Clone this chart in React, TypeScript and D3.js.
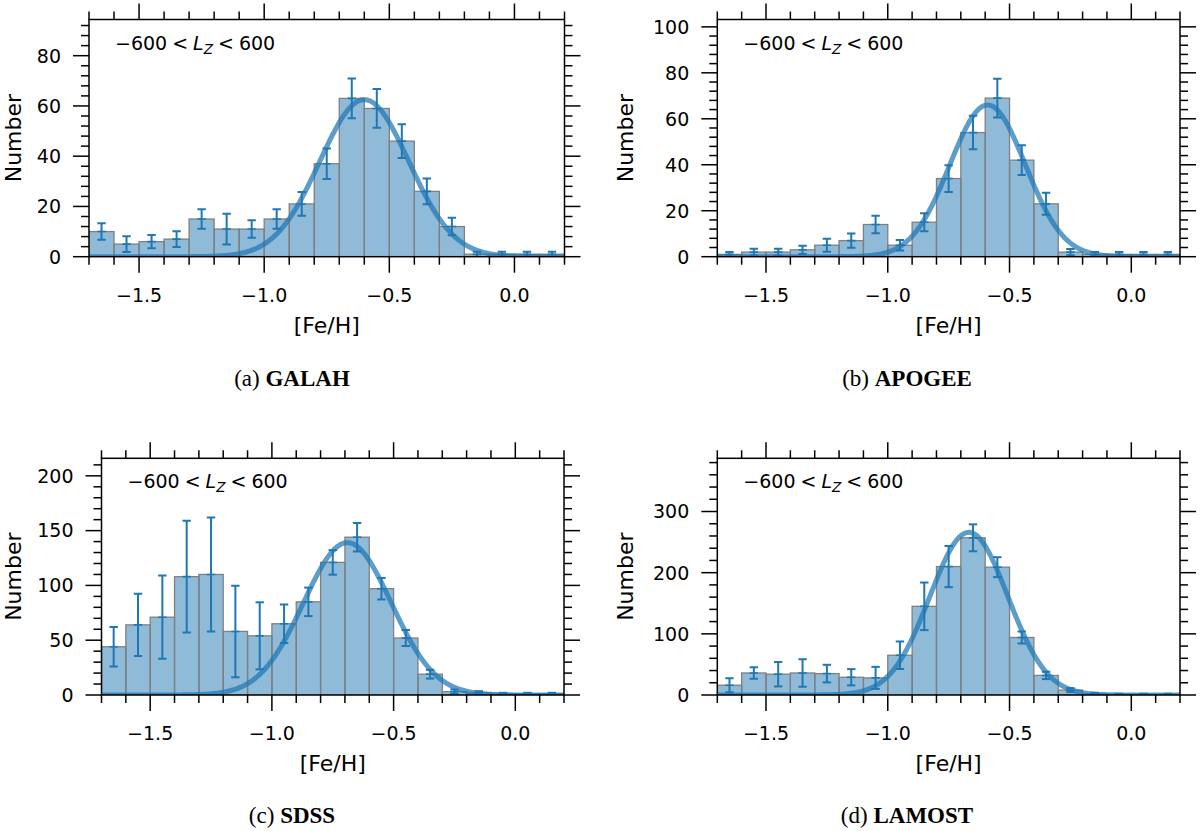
import React from 'react';
import * as d3 from 'd3';

// ---------- data ----------
const binCenters = [-1.65, -1.55, -1.45, -1.35, -1.25, -1.15, -1.05, -0.95, -0.85, -0.75, -0.65, -0.55, -0.45, -0.35, -0.25, -0.15, -0.05, 0.05, 0.15];
const binWidth = 0.1;
const xDomain = [-1.7, 0.2];
const xTicks = [-1.5, -1.0, -0.5, 0.0];
const xMinorStep = 0.1;

const galahCounts = [10, 5, 6, 7, 15, 11, 11, 15, 21, 37, 63, 59, 46, 26, 12, 1, 1, 1, 1];
const galahErrors = [3.3, 3.1, 2.6, 3.1, 3.9, 6.1, 3.5, 3.9, 4.7, 6.1, 7.9, 7.7, 6.7, 5.1, 3.5, 1, 1, 1, 1];
const galahFit = { amp: 62.5, mu: -0.6, sigma: 0.178 };
const galahYTicks = [0, 20, 40, 60, 80];

const apogeeCounts = [1, 2, 2, 3, 5, 7, 14, 5, 15, 34, 54, 69, 42, 23, 2, 1, 1, 1, 1];
const apogeeErrors = [1, 1.5, 1.5, 1.8, 2.8, 3.1, 3.8, 2.3, 3.9, 5.8, 7.3, 8.4, 6.5, 4.8, 1.4, 1, 1, 1, 1];
const apogeeFit = { amp: 66, mu: -0.59, sigma: 0.155 };
const apogeeYTicks = [0, 20, 40, 60, 80, 100];

const sdssCounts = [44, 64, 71, 108, 110, 58, 54, 65, 85, 121, 144, 97, 52, 19, 3, 2, 1, 1, 1];
const sdssErrors = [18, 28.5, 38, 51, 52, 41.7, 30.6, 17.6, 13, 11.2, 13, 9.8, 7.3, 4, 2, 1.5, 1, 1, 1];
const sdssFit = { amp: 139, mu: -0.69, sigma: 0.18 };
const sdssYTicks = [0, 50, 100, 150, 200];

const lamostCounts = [16, 36, 34, 36, 35, 29, 28, 65, 145, 210, 257, 209, 94, 32, 8, 2, 1, 1, 1];
const lamostErrors = [11.4, 9.5, 20, 22.5, 14.4, 13.3, 18, 22.5, 38.9, 33.7, 22, 16.3, 9.8, 6, 3.3, 1.5, 1, 1, 1];
const lamostFit = { amp: 266, mu: -0.667, sigma: 0.16 };
const lamostYTicks = [0, 100, 200, 300];

const captionLetters = ['(a)', '(b)', '(c)', '(d)'];
const surveyNames = ['GALAH', 'APOGEE', 'SDSS', 'LAMOST'];

// ---------- layout / style ----------
const W = 1200;
const H = 831;
const BLUE = '#1f77b4';
const SANS = '"DejaVu Sans", sans-serif';
const SERIF = '"Liberation Serif", "Times New Roman", serif';
const TICK_FS = 19;
const LABEL_FS = 22;
const MAJOR = 16;
const MINOR = 8;

type Fit = { amp: number; mu: number; sigma: number };
type PanelSpec = {
  counts: number[];
  errors: number[];
  fit: Fit;
  yTicks: number[];
  yMax: number;
  box: { left: number; right: number; top: number; bottom: number };
  ylabelX: number;
  captionX: number;
  captionY: number;
  caption: string;
  name: string;
};

const panels: PanelSpec[] = [
  { counts: galahCounts, errors: galahErrors, fit: galahFit, yTicks: galahYTicks, yMax: 94.4,
    box: { left: 89, right: 564.5, top: 19.5, bottom: 256.7 }, ylabelX: 21, captionX: 292, captionY: 386,
    caption: captionLetters[0], name: surveyNames[0] },
  { counts: apogeeCounts, errors: apogeeErrors, fit: apogeeFit, yTicks: apogeeYTicks, yMax: 103.2,
    box: { left: 717.3, right: 1180, top: 19.5, bottom: 256.7 }, ylabelX: 633, captionX: 907, captionY: 386,
    caption: captionLetters[1], name: surveyNames[1] },
  { counts: sdssCounts, errors: sdssErrors, fit: sdssFit, yTicks: sdssYTicks, yMax: 216,
    box: { left: 101.5, right: 564, top: 458.3, bottom: 695 }, ylabelX: 21, captionX: 292, captionY: 823,
    caption: captionLetters[2], name: surveyNames[2] },
  { counts: lamostCounts, errors: lamostErrors, fit: lamostFit, yTicks: lamostYTicks, yMax: 387,
    box: { left: 717.3, right: 1180, top: 458.3, bottom: 695 }, ylabelX: 633, captionX: 907, captionY: 823,
    caption: captionLetters[3], name: surveyNames[3] },
];

const fmtX = d3.format('.1f');

function Panel({ p, idx }: { p: PanelSpec; idx: number }) {
  const { left, right, top, bottom } = p.box;
  const x = d3.scaleLinear().domain(xDomain).range([left, right]);
  const y = d3.scaleLinear().domain([0, p.yMax]).range([bottom, top]);
  const yStep = p.yTicks[1] - p.yTicks[0];
  const yMinor = d3.range(0, p.yMax + 1e-9, yStep / 5).filter((v) => !p.yTicks.some((t) => Math.abs(t - v) < 1e-6));
  const xMinor = d3.range(Math.round(xDomain[0] / xMinorStep), Math.round(xDomain[1] / xMinorStep) + 1)
    .map((i) => i * xMinorStep)
    .filter((v) => !xTicks.some((t) => Math.abs(t - v) < 1e-6));

  const gauss = (v: number) => p.fit.amp * Math.exp(-((v - p.fit.mu) ** 2) / (2 * p.fit.sigma ** 2));
  const samples = d3.range(xDomain[0], xDomain[1] + 1e-9, 0.004);
  const line = d3.line<number>().x((v) => x(v)).y((v) => y(gauss(v)));

  const cap = 4.2;
  const clipId = `clip${idx}`;
  const tickW = 1.5;

  return (
    <g>
      <defs>
        <clipPath id={clipId}>
          <rect x={left} y={top} width={right - left} height={bottom - top} />
        </clipPath>
      </defs>
      <g clipPath={`url(#${clipId})`}>
        {binCenters.map((c, i) => (
          <rect key={i} x={x(c - binWidth / 2)} y={y(p.counts[i])} width={x(c + binWidth / 2) - x(c - binWidth / 2)}
            height={y(0) - y(p.counts[i])} fill={BLUE} fillOpacity={0.5} stroke="#808080" strokeWidth={1.3} />
        ))}
        <path d={line(samples) || ''} fill="none" stroke={BLUE} strokeOpacity={0.72} strokeWidth={5} />
        {binCenters.map((c, i) => {
          const cx = x(c);
          const y1 = y(p.counts[i] + p.errors[i]);
          const y0 = y(Math.max(p.counts[i] - p.errors[i], -1));
          const ym = y(p.counts[i]);
          return (
            <g key={i} stroke={BLUE} strokeWidth={2}>
              <line x1={cx} x2={cx} y1={y0} y2={y1} />
              <line x1={cx - cap} x2={cx + cap} y1={y1} y2={y1} />
              <line x1={cx - cap} x2={cx + cap} y1={y0} y2={y0} />
              <line x1={cx - cap} x2={cx + cap} y1={ym} y2={ym} strokeWidth={1.6} />
            </g>
          );
        })}
      </g>
      {/* ticks */}
      <g stroke="#000" strokeWidth={tickW}>
        {xTicks.map((t) => (
          <g key={`xt${t}`}>
            <line x1={x(t)} x2={x(t)} y1={bottom} y2={bottom + MAJOR} />
            <line x1={x(t)} x2={x(t)} y1={top} y2={top - MAJOR} />
          </g>
        ))}
        {xMinor.map((t) => (
          <g key={`xm${t}`}>
            <line x1={x(t)} x2={x(t)} y1={bottom} y2={bottom + MINOR} />
            <line x1={x(t)} x2={x(t)} y1={top} y2={top - MINOR} />
          </g>
        ))}
        {p.yTicks.map((t) => (
          <g key={`yt${t}`}>
            <line x1={left} x2={left - MAJOR} y1={y(t)} y2={y(t)} />
            <line x1={right} x2={right + MAJOR} y1={y(t)} y2={y(t)} />
          </g>
        ))}
        {yMinor.map((t) => (
          <g key={`ym${t}`}>
            <line x1={left} x2={left - MINOR} y1={y(t)} y2={y(t)} />
            <line x1={right} x2={right + MINOR} y1={y(t)} y2={y(t)} />
          </g>
        ))}
      </g>
      <rect x={left} y={top} width={right - left} height={bottom - top} fill="none" stroke="#000" strokeWidth={1.5} />
      {/* tick labels */}
      <g fontFamily={SANS} fontSize={TICK_FS} fill="#000">
        {xTicks.map((t) => (
          <text key={`xl${t}`} x={x(t)} y={bottom + 45} textAnchor="middle">{fmtX(t)}</text>
        ))}
        {p.yTicks.map((t) => (
          <text key={`yl${t}`} x={left - 28} y={y(t)} dy="0.36em" textAnchor="end">{String(t)}</text>
        ))}
      </g>
      {/* axis labels */}
      <text x={(left + right) / 2} y={bottom + 76} textAnchor="middle" fontFamily={SANS} fontSize={LABEL_FS}>[Fe/H]</text>
      <text transform={`translate(${p.ylabelX},${(top + bottom) / 2}) rotate(-90)`} textAnchor="middle"
        fontFamily={SANS} fontSize={LABEL_FS}>Number</text>
      {/* annotation */}
      <text x={left + 26} y={top + 30} fontFamily={SANS} fontSize={TICK_FS}>
        <tspan>{'\u2212600'}</tspan>
        <tspan dx={5}>{'<'}</tspan>
        <tspan dx={5} fontStyle="italic">L</tspan>
        <tspan dy={4} fontSize={13.5} fontStyle="italic">Z</tspan>
        <tspan dy={-4} dx={5}>{'<'}</tspan>
        <tspan dx={5}>600</tspan>
      </text>
      {/* caption */}
      <text x={p.captionX} y={p.captionY} textAnchor="middle" fontFamily={SERIF} fontSize={23}>
        <tspan>{p.caption + ' '}</tspan>
        <tspan fontWeight="bold">{p.name}</tspan>
      </text>
    </g>
  );
}

export default function App() {
  return (
    <svg width={W} height={H} viewBox={`0 0 ${W} ${H}`}
      style={{ position: 'absolute', left: 0, top: 0, background: '#fff', display: 'block' }}>
      <rect x={0} y={0} width={W} height={H} fill="#fff" />
      {panels.map((p, i) => (
        <Panel key={i} p={p} idx={i} />
      ))}
    </svg>
  );
}
